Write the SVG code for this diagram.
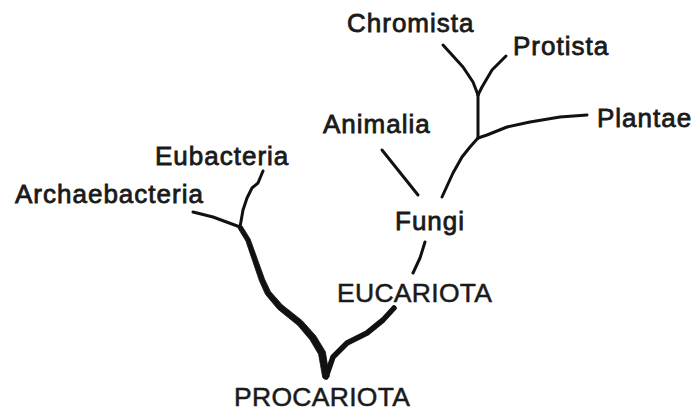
<svg xmlns="http://www.w3.org/2000/svg" width="692" height="413" viewBox="0 0 692 413">
<style>
.lbl{font-family:"Liberation Sans",Arial,sans-serif;font-size:26px;fill:#1a1a1a;stroke:#1a1a1a;stroke-width:0.8px;letter-spacing:1px}
.cap{font-family:"Liberation Sans",Arial,sans-serif;font-size:26.5px;fill:#1a1a1a;stroke:#1a1a1a;stroke-width:0.5px;letter-spacing:0.3px}
.ln{fill:none;stroke:#111;stroke-linecap:round;stroke-linejoin:round}
.trunk{fill:#111;stroke:#111;stroke-width:0.8;stroke-linejoin:round}
.t3{stroke-width:3}
.t5{stroke-width:5.5}
</style>
<rect width="692" height="413" fill="#fff"/>
<g id="connectors">
<path class="ln t3" d="M193,212 L213,217 L240,227"/>
<path class="ln t3" d="M263,171 L258,183 L252,188 L247,198 L243,210 L240,227"/>
<path class="trunk" d="M241.9,225.8 L250.1,239 L257.4,259.2 L264.5,279 L270.4,291.5 L282.1,304.8 L302.2,320.7 L315.8,336 L325.4,351.8 L329.3,376.5 Q326,381 322.7,377.5 L318.6,354.2 L310.2,340 L297.8,325.3 L277.9,309.2 L265.6,294.5 L259.5,281 L252.6,260.8 L245.9,241 L238.1,228.2 Z"/>
<path class="ln t5" d="M326,377 L333,357 L347,343 L367,333 L383,320 L394,308"/>
<path class="ln t3" d="M425,242 L420,258 L413,273"/>
<path class="ln t3" d="M382,150 L418,195"/>
<path class="ln t3" d="M442,197 L453,173 L462,157 L470,147 L478,138"/>
<path class="ln t3" d="M478,138 L487,135 L507,127 L530,122 L560,117 L587,115"/>
<path class="ln t3" d="M478,138 L478,95"/>
<path class="ln t3" d="M443,45 L463,67 L473,82 L478,95"/>
<path class="ln t3" d="M506,56 L492,70 L482,87 L478,95"/>
</g>
<g id="chromista"><text class="lbl" x="347" y="32">Chromista</text></g>
<g id="protista"><text class="lbl" x="513" y="55">Protista</text></g>
<g id="plantae"><text class="lbl" x="597" y="127">Plantae</text></g>
<g id="animalia"><text class="lbl" x="323" y="133">Animalia</text></g>
<g id="fungi"><text class="lbl" x="395" y="230">Fungi</text></g>
<g id="eucariota"><text class="cap" x="337" y="302">EUCARIOTA</text></g>
<g id="eubacteria"><text class="lbl" x="155" y="165">Eubacteria</text></g>
<g id="archaebacteria"><text class="lbl" x="15" y="203">Archaebacteria</text></g>
<g id="procariota"><text class="cap" x="234" y="406">PROCARIOTA</text></g>
</svg>
